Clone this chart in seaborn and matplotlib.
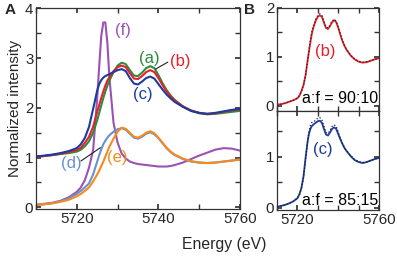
import seaborn as sns
import matplotlib.pyplot as plt
import pandas as pd
from matplotlib.ticker import MultipleLocator

# energy grid (eV)
energy = [5710, 5712, 5714, 5716, 5718, 5720, 5721, 5722, 5723, 5724, 5725, 5725.5, 5726, 5726.5,
          5727, 5727.5, 5728, 5729, 5730, 5731, 5732, 5733, 5734, 5735, 5736, 5737, 5738, 5739,
          5740, 5741, 5742, 5743, 5744, 5746, 5748, 5750, 5752, 5754, 5756, 5758, 5760]

# panel A spectra
spec_a = [1.02, 1.03, 1.05, 1.07, 1.09, 1.12, 1.16, 1.23, 1.33, 1.50, 1.75, 1.90, 2.05, 2.20,
          2.33, 2.45, 2.55, 2.72, 2.85, 2.91, 2.88, 2.76, 2.65, 2.64, 2.71, 2.80, 2.84, 2.80,
          2.66, 2.50, 2.36, 2.25, 2.16, 2.03, 1.94, 1.89, 1.87, 1.88, 1.90, 1.92, 1.94]
spec_b = [1.02, 1.03, 1.05, 1.08, 1.11, 1.15, 1.20, 1.30, 1.42, 1.62, 1.92, 2.06, 2.20, 2.33,
          2.45, 2.55, 2.62, 2.74, 2.82, 2.85, 2.82, 2.70, 2.59, 2.58, 2.64, 2.72, 2.76, 2.72,
          2.60, 2.46, 2.33, 2.23, 2.15, 2.03, 1.95, 1.90, 1.88, 1.89, 1.92, 1.95, 1.97]
spec_c = [1.02, 1.04, 1.06, 1.09, 1.13, 1.19, 1.27, 1.40, 1.62, 1.98, 2.35, 2.48, 2.56, 2.61,
          2.64, 2.66, 2.68, 2.72, 2.76, 2.78, 2.74, 2.60, 2.49, 2.47, 2.53, 2.60, 2.63, 2.59,
          2.48, 2.37, 2.27, 2.19, 2.12, 2.02, 1.94, 1.90, 1.88, 1.90, 1.93, 1.96, 1.98]
spec_d = [0.05, 0.06, 0.08, 0.12, 0.18, 0.27, 0.33, 0.40, 0.48, 0.66, 0.92, 1.05, 1.17, 1.27,
          1.34, 1.40, 1.45, 1.52, 1.57, 1.59, 1.56, 1.48, 1.40, 1.38, 1.42, 1.48, 1.51, 1.47,
          1.39, 1.29, 1.19, 1.11, 1.05, 0.97, 0.92, 0.90, 0.89, 0.90, 0.92, 0.94, 0.96]
spec_e = [0.05, 0.06, 0.08, 0.11, 0.15, 0.22, 0.27, 0.33, 0.40, 0.52, 0.66, 0.74, 0.83, 0.92,
          1.02, 1.12, 1.22, 1.38, 1.52, 1.60, 1.58, 1.50, 1.42, 1.40, 1.44, 1.50, 1.53, 1.49,
          1.40, 1.30, 1.20, 1.12, 1.06, 0.98, 0.93, 0.90, 0.89, 0.90, 0.92, 0.94, 0.96]
spec_f = [0.05, 0.07, 0.09, 0.13, 0.20, 0.31, 0.40, 0.55, 0.80, 1.15, 2.20, 2.85, 3.45, 3.72,
          3.72, 3.30, 2.60, 1.70, 1.30, 1.08, 0.98, 0.92, 0.89, 0.87, 0.86, 0.85, 0.84, 0.83,
          0.82, 0.82, 0.82, 0.83, 0.85, 0.90, 0.97, 1.04, 1.10, 1.16, 1.19, 1.18, 1.14]

# panel B: normalized spectra and linear-combination fits
norm_b = [0.02, 0.03, 0.05, 0.08, 0.11, 0.15, 0.20, 0.30, 0.42, 0.62, 0.92, 1.06, 1.20, 1.33,
          1.45, 1.55, 1.62, 1.74, 1.82, 1.85, 1.82, 1.70, 1.59, 1.57, 1.63, 1.71, 1.75, 1.71,
          1.60, 1.46, 1.33, 1.23, 1.15, 1.03, 0.95, 0.90, 0.88, 0.89, 0.92, 0.95, 0.97]
fit_90_10 = [0.02, 0.03, 0.05, 0.08, 0.11, 0.16, 0.21, 0.30, 0.43, 0.62, 0.93, 1.08, 1.24, 1.38,
             1.50, 1.58, 1.65, 1.77, 1.85, 1.88, 1.85, 1.73, 1.61, 1.59, 1.65, 1.73, 1.77, 1.73,
             1.61, 1.47, 1.34, 1.24, 1.16, 1.04, 0.96, 0.91, 0.89, 0.90, 0.92, 0.95, 0.97]
norm_c = [0.02, 0.04, 0.06, 0.09, 0.13, 0.19, 0.27, 0.40, 0.62, 0.98, 1.30, 1.42, 1.50, 1.56,
          1.60, 1.62, 1.64, 1.67, 1.70, 1.71, 1.67, 1.55, 1.44, 1.42, 1.48, 1.55, 1.58, 1.55,
          1.45, 1.35, 1.26, 1.18, 1.12, 1.02, 0.94, 0.90, 0.88, 0.90, 0.93, 0.96, 0.98]
fit_85_15 = [0.02, 0.04, 0.06, 0.09, 0.13, 0.19, 0.26, 0.38, 0.60, 0.95, 1.30, 1.45, 1.56, 1.63,
             1.67, 1.68, 1.69, 1.72, 1.76, 1.77, 1.73, 1.60, 1.48, 1.46, 1.52, 1.60, 1.63, 1.60,
             1.49, 1.37, 1.27, 1.19, 1.13, 1.03, 0.95, 0.91, 0.89, 0.90, 0.93, 0.96, 0.98]

colors = {"a": "#2a8c3c", "b": "#e8202a", "c": "#1c3c9c",
          "d": "#6a90d0", "e": "#f58a1f", "f": "#9c52b4"}

sns.set_theme(style="ticks")
plt.rcParams['font.family'] = ['Liberation Sans', 'DejaVu Sans']
plt.rcParams['font.size'] = 11

TICK_FS = 10.8
LAB_FS = 12
RATIO_FS = 11.5

# drawing order: purple first, orange over light blue, blue on top
df = pd.concat([
    pd.DataFrame({"energy": energy, "intensity": vals, "sample": key})
    for key, vals in [("f", spec_f), ("d", spec_d), ("e", spec_e),
                      ("a", spec_a), ("b", spec_b), ("c", spec_c)]
])

fig = plt.figure(figsize=(3.97, 2.56), dpi=100)
axA = fig.add_axes([0.0907, 0.1836, 0.5138, 0.7871])
axB1 = fig.add_axes([0.6977, 0.5664, 0.2570, 0.4024])
axB2 = fig.add_axes([0.6977, 0.1797, 0.2570, 0.3867])


def style_axis(ax, ymaj):
    ax.set_xlim(5710, 5760)
    ax.xaxis.set_minor_locator(MultipleLocator(10))
    ax.yaxis.set_major_locator(MultipleLocator(ymaj))
    ax.yaxis.set_minor_locator(MultipleLocator(0.5))
    ax.tick_params(which="both", direction="in", top=True, right=True,
                   labelsize=TICK_FS, pad=2, color="#333333")
    ax.tick_params(which="major", length=3.5)
    ax.tick_params(which="minor", length=3.5)
    for s in ax.spines.values():
        s.set_linewidth(0.9)
        s.set_color("#333333")
    ax.set_xlabel("")
    ax.set_ylabel("")


# Panel A
sns.lineplot(data=df, x="energy", y="intensity", hue="sample", palette=colors,
             hue_order=["f", "d", "e", "a", "b", "c"],
             estimator=None, sort=False, linewidth=1.5, legend=False, ax=axA)
style_axis(axA, 1)
axA.set_ylim(-0.035, 4.02)
axA.xaxis.set_major_locator(MultipleLocator(20))
axA.set_ylabel("Normalized intensity", fontsize=11, labelpad=2)

axA.text(5731.2, 3.56, "(f)", color=colors["f"], fontsize=LAB_FS, ha="center", va="center")
axA.text(5737.7, 3.0, "(a)", color=colors["a"], fontsize=LAB_FS, ha="center", va="center")
axA.text(5745.3, 2.94, "(b)", color=colors["b"], fontsize=LAB_FS, ha="center", va="center")
axA.plot([5742.3, 5739.3], [2.92, 2.78], color="#222222", lw=0.8)
axA.text(5736.3, 2.26, "(c)", color=colors["c"], fontsize=LAB_FS, ha="center", va="center")
axA.text(5718.7, 0.89, "(d)", color=colors["d"], fontsize=LAB_FS, ha="center", va="center")
axA.plot([5721.0, 5725.8], [0.93, 1.2], color="#222222", lw=0.8)
axA.text(5729.8, 1.0, "(e)", color=colors["e"], fontsize=LAB_FS, ha="center", va="center")

# Panel B top
sns.lineplot(x=energy, y=norm_b, color=colors["b"], linewidth=1.3, ax=axB1)
sns.lineplot(x=energy, y=fit_90_10, color="#222222", linewidth=0.9, linestyle=":", ax=axB1)
style_axis(axB1, 1)
axB1.set_ylim(-0.11, 2.0)
axB1.set_xticks([5720, 5760])
axB1.tick_params(labelbottom=False)
axB1.text(5733.5, 1.1, "(b)", color=colors["b"], fontsize=LAB_FS, ha="center", va="center")
axB1.text(5759.6, 0.0, "a:f = 90:10", color="black", fontsize=RATIO_FS, ha="right", va="bottom")

# Panel B bottom
sns.lineplot(x=energy, y=norm_c, color=colors["c"], linewidth=1.3, ax=axB2)
sns.lineplot(x=energy, y=fit_85_15, color="#222222", linewidth=0.9, linestyle=":", ax=axB2)
style_axis(axB2, 1)
axB2.set_ylim(-0.04, 1.9)
axB2.set_xticks([5720, 5760])

fig.text(0.565, 0.045, "Energy (eV)", fontsize=11.3, ha="center", va="center")
axB2.text(5732.5, 1.14, "(c)", color=colors["c"], fontsize=LAB_FS, ha="center", va="center")
axB2.text(5759.6, -0.01, "a:f = 85:15", color="black", fontsize=RATIO_FS, ha="right", va="bottom")

fig.text(0.012, 0.962, "A", fontsize=11, fontweight="bold", ha="left", va="center")
fig.text(0.615, 0.962, "B", fontsize=11, fontweight="bold", ha="left", va="center")

plt.savefig("out.png", dpi=100)
